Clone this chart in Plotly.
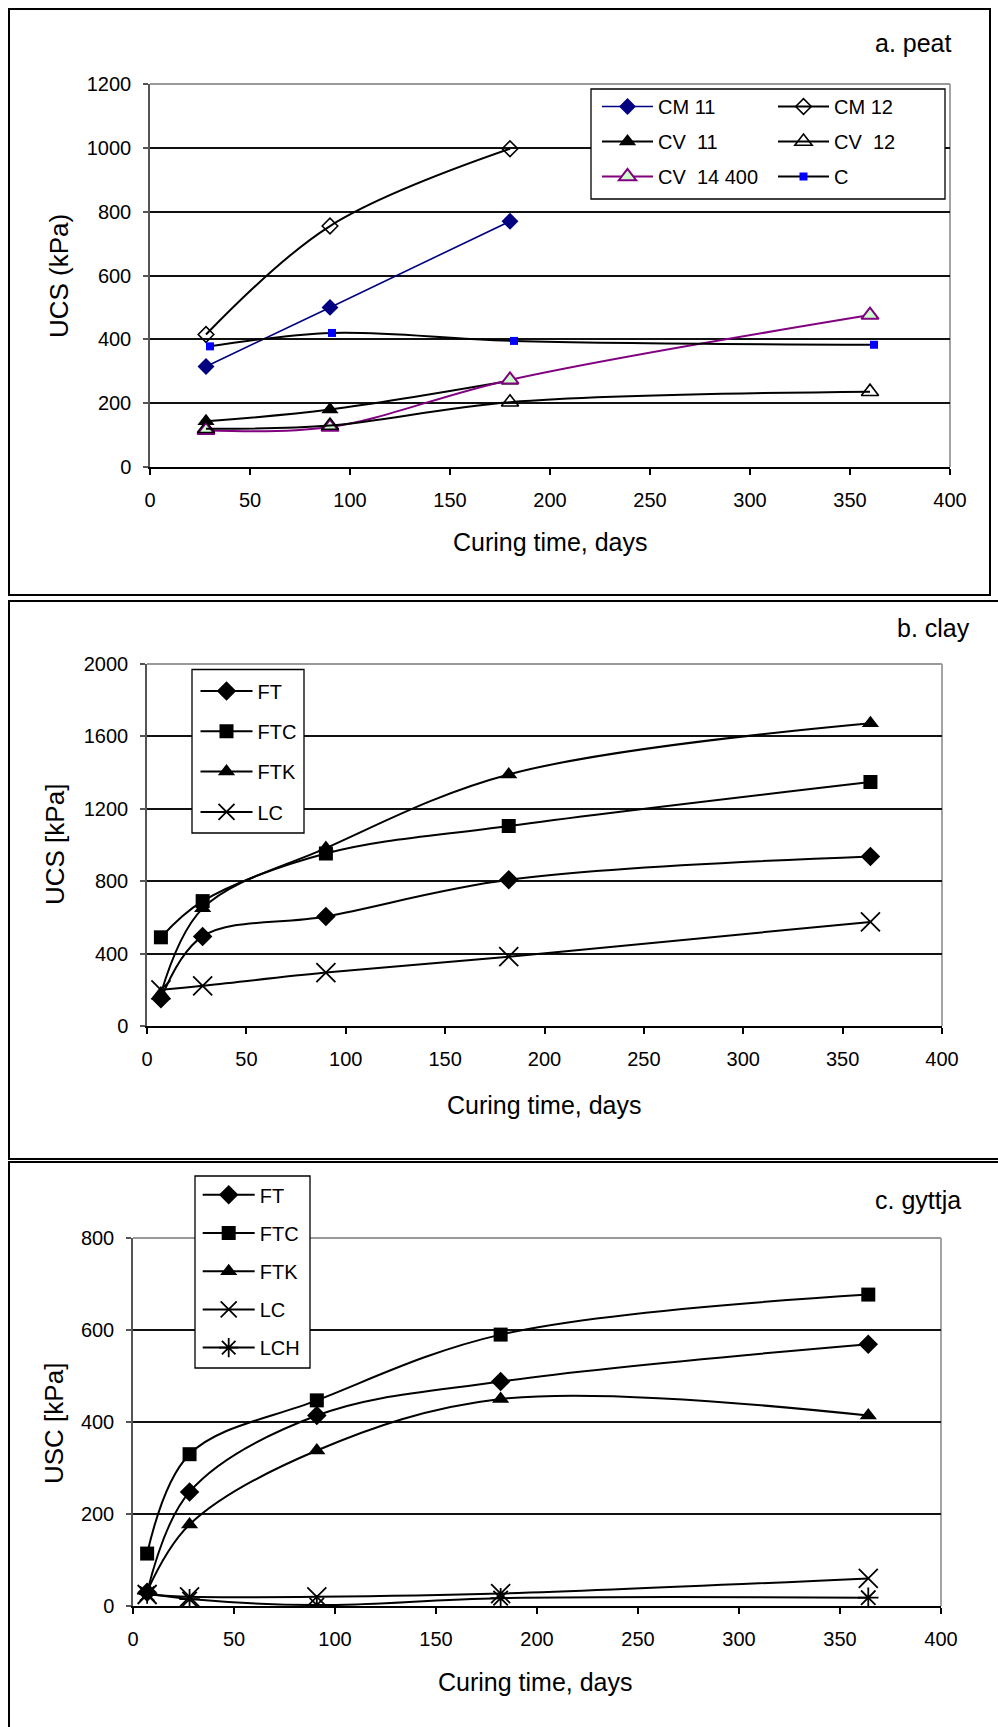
import plotly.graph_objects as go

W, H = 998, 1727
FONT = "Liberation Sans, Arial, sans-serif"

# ---------------- data ----------------
# a. peat
peat_cm_days = [28, 90, 180]
peat_cm11 = [315, 500, 770]
peat_cm12 = [415, 755, 997]
peat_cv11_days = [28, 90, 180]
peat_cv11 = [143, 180, 270]
peat_cv_days = [28, 90, 180, 360]
peat_cv12 = [120, 130, 203, 236]
peat_cv14 = [115, 125, 273, 476]
peat_c_days = [30, 91, 182, 362]
peat_c = [378, 420, 395, 383]

# b. clay
clay_days = [7, 28, 90, 182, 364]
clay_ft = [150, 495, 605, 808, 937]
clay_ftc = [490, 690, 953, 1105, 1348]
clay_ftk = [180, 650, 983, 1390, 1672]
clay_lc = [200, 222, 295, 383, 575]

# c. gyttja
gyttja_days = [7, 28, 91, 182, 364]
gyttja_ft = [30, 248, 414, 488, 569]
gyttja_ftc = [114, 330, 447, 590, 677]
gyttja_ftk = [32, 177, 338, 450, 414]
gyttja_lc = [25, 20, 20, 27, 60]
gyttja_lch = [27, 15, 2, 17, 18]

x_tick_vals = [0, 50, 100, 150, 200, 250, 300, 350, 400]
peat_y_ticks = [0, 200, 400, 600, 800, 1000, 1200]
clay_y_ticks = [0, 400, 800, 1200, 1600, 2000]
gyttja_y_ticks = [0, 200, 400, 600, 800]


def px(x):
    return x / W


def py(y):
    return 1 - y / H


fig = go.Figure()


def add(x, y, name, xa, ya, leg, color="black", lw=2, symbol="circle",
        msize=10, mcolor="black", mline=None, mlw=0):
    marker = dict(symbol=symbol, size=msize, color=mcolor)
    if mline is not None:
        marker["line"] = dict(color=mline, width=mlw)
    elif mlw:
        marker["line"] = dict(width=mlw)
    fig.add_trace(go.Scatter(
        x=x, y=y, name=name, mode="lines+markers",
        line=dict(color=color, width=lw, shape="spline", smoothing=1.0),
        marker=marker, xaxis=xa, yaxis=ya, legend=leg, legendgroup=name + leg,
        hoverinfo="skip"))


# panel a
add(peat_cm_days, peat_cm11, "CM 11", "x", "y", "legend", color="#000080", lw=1.6,
    symbol="diamond", msize=13, mcolor="#000080")
add(peat_cv11_days, peat_cv11, "CV\u00a0\u00a011", "x", "y", "legend",
    symbol="triangle-up", msize=15, mcolor="black")
add(peat_cv_days, peat_cv14, "CV\u00a0\u00a014 400", "x", "y", "legend", color="#800080",
    symbol="triangle-up", msize=15, mcolor="#CCFFCC", mline="#800080", mlw=2)
add(peat_cm_days, peat_cm12, "CM 12", "x", "y", "legend2",
    symbol="diamond-open", msize=12, mcolor="black", mlw=1.6)
add(peat_cv_days, peat_cv12, "CV\u00a0\u00a012", "x", "y", "legend2",
    symbol="triangle-up-open", msize=15, mcolor="black", mlw=1.6)
add(peat_c_days, peat_c, "C", "x", "y", "legend2",
    symbol="square", msize=8, mcolor="#0000FF")

# panel b
add(clay_days, clay_ft, "FT", "x2", "y2", "legend3", symbol="diamond", msize=15)
add(clay_days, clay_ftc, "FTC", "x2", "y2", "legend3", symbol="square", msize=14)
add(clay_days, clay_ftk, "FTK", "x2", "y2", "legend3", symbol="triangle-up", msize=15)
add(clay_days, clay_lc, "LC", "x2", "y2", "legend3", symbol="x-thin-open", msize=19,
    mcolor="black", mlw=1.8)

# panel c
add(gyttja_days, gyttja_ft, "FT", "x3", "y3", "legend4", symbol="diamond", msize=15)
add(gyttja_days, gyttja_ftc, "FTC", "x3", "y3", "legend4", symbol="square", msize=14)
add(gyttja_days, gyttja_ftk, "FTK", "x3", "y3", "legend4", symbol="triangle-up", msize=15)
add(gyttja_days, gyttja_lc, "LC", "x3", "y3", "legend4", symbol="x-thin-open", msize=19,
    mcolor="black", mlw=1.8)
add(gyttja_days, gyttja_lch, "LCH", "x3", "y3", "legend4", symbol="asterisk-open", msize=17,
    mcolor="black", mlw=1.8)

tickfont = dict(size=20, color="black", family=FONT)


def xaxis(l, r, anchor):
    return dict(domain=[px(l), px(r)], anchor=anchor, range=[0, 400],
                tickmode="array", tickvals=x_tick_vals, showgrid=False,
                showline=True, linecolor="black", linewidth=1.5, ticks="outside",
                ticklen=6, tickwidth=1.5, tickcolor="black", tickfont=tickfont,
                zeroline=False, ticklabelstandoff=8, fixedrange=True)


def yaxis(t, b, anchor, ymax, ticks):
    return dict(domain=[py(b), py(t)], anchor=anchor, range=[0, ymax],
                tickmode="array", tickvals=ticks, showgrid=True, gridcolor="#111",
                gridwidth=1.6, showline=True, linecolor="#555", linewidth=1.5,
                ticks="outside", ticklen=5, tickwidth=1.5, tickcolor="#555",
                tickfont=tickfont, zeroline=False, ticklabelstandoff=8,
                fixedrange=True)


# plot-area pixel boxes
A = (150, 950, 84, 467)
B = (147, 942, 664, 1026)
C = (133, 941, 1238, 1606)

legfont = dict(size=20, color="black", family=FONT)


def leg(x, y, gap, iw):
    return dict(x=px(x), y=py(y), xanchor="left", yanchor="top",
                bgcolor="rgba(0,0,0,0)", borderwidth=0, font=legfont,
                itemwidth=iw, tracegroupgap=gap, itemclick=False, itemdoubleclick=False)


shapes = []
# panel frames
for (x0, x1, y0, y1) in [(9, 990, 9, 595), (9, 1010, 601, 1159), (9, 1010, 1162, 1740)]:
    shapes.append(dict(type="rect", xref="paper", yref="paper", x0=px(x0), x1=px(x1),
                       y0=py(y1), y1=py(y0), line=dict(color="black", width=2),
                       fillcolor="rgba(0,0,0,0)", layer="above"))
# grey plot-area borders (top, right)
for (l, r, t, b) in [A, B, C]:
    shapes.append(dict(type="line", xref="paper", yref="paper", x0=px(l), x1=px(r),
                       y0=py(t), y1=py(t), line=dict(color="#9a9a9a", width=1.8), layer="below"))
    shapes.append(dict(type="line", xref="paper", yref="paper", x0=px(r), x1=px(r),
                       y0=py(b), y1=py(t), line=dict(color="#9a9a9a", width=1.8), layer="below"))
# legend boxes
for (x0, x1, y0, y1) in [(591, 945, 89, 199), (192, 304, 669.5, 833), (195, 310, 1176, 1368)]:
    shapes.append(dict(type="rect", xref="paper", yref="paper", x0=px(x0), x1=px(x1),
                       y0=py(y1), y1=py(y0), line=dict(color="black", width=1.3),
                       fillcolor="white", layer="above"))

annotations = []


def ann(text, x, y, size, xanchor="center", angle=0):
    annotations.append(dict(text=text, x=px(x), y=py(y), xref="paper", yref="paper",
                            showarrow=False, xanchor=xanchor, yanchor="middle",
                            textangle=angle, font=dict(size=size, color="black", family=FONT)))


ann("a. peat", 954, 43, 25, xanchor="right")
ann("b. clay", 972, 628, 25, xanchor="right")
ann("c. gyttja", 963, 1200, 25, xanchor="right")
ann("Curing time, days", 550, 542, 25)
ann("Curing time, days", 544, 1105, 25)
ann("Curing time, days", 535, 1682, 25)
ann("UCS (kPa)", 59, 276, 26, angle=-90)
ann("UCS [kPa]", 55, 845, 26, angle=-90)
ann("USC [kPa]", 54, 1424, 26, angle=-90)

fig.update_layout(
    width=W, height=H, margin=dict(l=0, r=0, t=0, b=0, autoexpand=False),
    paper_bgcolor="white", plot_bgcolor="white", font=dict(family=FONT, color="black"),
    xaxis=xaxis(A[0], A[1], "y"), yaxis=yaxis(A[2], A[3], "x", 1200, peat_y_ticks),
    xaxis2=xaxis(B[0], B[1], "y2"), yaxis2=yaxis(B[2], B[3], "x2", 2000, clay_y_ticks),
    xaxis3=xaxis(C[0], C[1], "y3"), yaxis3=yaxis(C[2], C[3], "x3", 800, gyttja_y_ticks),
    legend=leg(597, 87, 6.0, 51),
    legend2=leg(773, 87, 6.0, 51),
    legend3=leg(195.5, 671.5, 11.3, 52),
    legend4=leg(197.7, 1175.3, 9.2, 52),
    shapes=shapes, annotations=annotations, showlegend=True,
)

fig.write_html("out.html")
